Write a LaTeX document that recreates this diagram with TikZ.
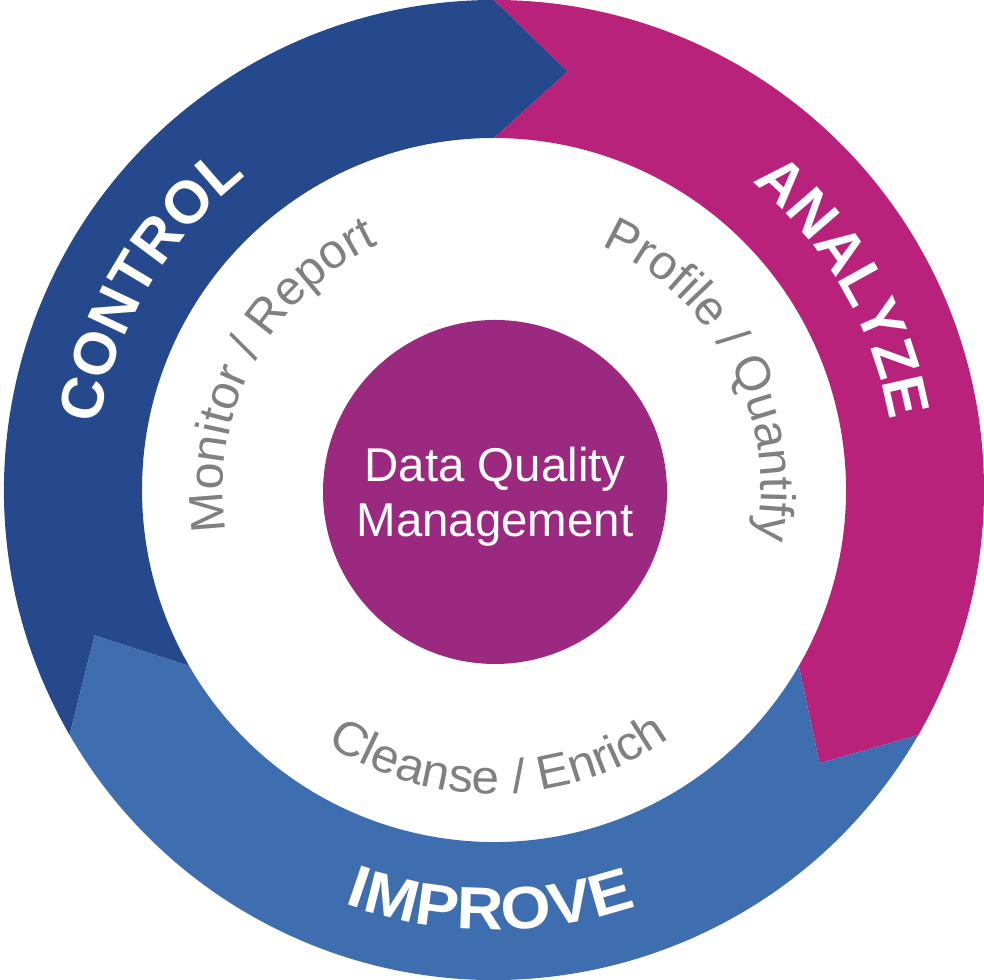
\documentclass[tikz,border=0pt]{standalone}
\usepackage{fontspec}
\usepackage{tikz}
\usetikzlibrary{decorations.text}
\newfontfamily\ringfont{Liberation Sans}
\newfontfamily\widefont{Liberation Sans}[FakeStretch=1.08]
\newfontfamily\semiwidefont{Liberation Sans}[FakeStretch=1.04]
\definecolor{ctrlblue}{RGB}{38,72,140}
\definecolor{anamagenta}{RGB}{185,34,123}
\definecolor{impblue}{RGB}{63,110,176}
\definecolor{hubpurple}{RGB}{155,41,128}
\definecolor{stepgray}{RGB}{128,128,128}
\newcommand{\boldring}{\ringfont\bfseries\fontsize{17}{20}\selectfont}
\newcommand{\boldwide}{\widefont\bfseries\fontsize{17}{20}\selectfont}
\newcommand{\thinring}{\ringfont\fontsize{13.8}{16}\selectfont}
\newcommand{\thinwide}{\semiwidefont\fontsize{13.6}{16}\selectfont}
\newcommand{\ringarrow}[3]{\fill[#1] (#2:3.52) -- (#2-10:4.25) -- (#2:4.90) arc[start angle=#2, end angle=#3, radius=4.90] -- (#3-10:4.25) -- (#3:3.52) arc[start angle=#3, end angle=#2, radius=3.52] -- cycle;}
\newcommand{\arclabel}[5]{\path[decorate, decoration={text along path, text align=center, text color=#1, text={#2}}] (#3:#5) arc[start angle=#3, end angle=#4, radius=#5];}

\begin{document}
\begin{tikzpicture}[
  hub/.style={circle, fill=hubpurple, minimum size=3.44cm, inner sep=0pt, text=white,
    align=center, text depth=0pt, font=\ringfont\fontsize{13.5}{15.6}\selectfont}]
\useasboundingbox (-4.94,-4.90) rectangle (4.90,4.90);
% ring of arrows
\ringarrow{ctrlblue}{210}{90}
\ringarrow{anamagenta}{90}{-30}
\ringarrow{impblue}{-30}{-150}
% ring titles
\arclabel{white}{|\boldring|CONTROL}{201.5}{97.5}{4.00}
\arclabel{white}{|\boldring|ANALYZE}{82}{-22}{4.02}
\arclabel{white}{|\boldwide|IMPROVE}{217.5}{321.5}{4.40}
% step labels
\arclabel{stepgray}{|\thinring|Monitor / Report}{205}{99}{2.71}
\arclabel{stepgray}{|\thinring|Profile / Quantify}{80}{-24.4}{2.67}
\arclabel{stepgray}{|\thinwide|Cleanse / Enrich}{220}{322}{3.04}
% hub
\node[hub] (dqm) at (0.01,-0.02) {Data Quality\\Management};
\end{tikzpicture}
\end{document}
